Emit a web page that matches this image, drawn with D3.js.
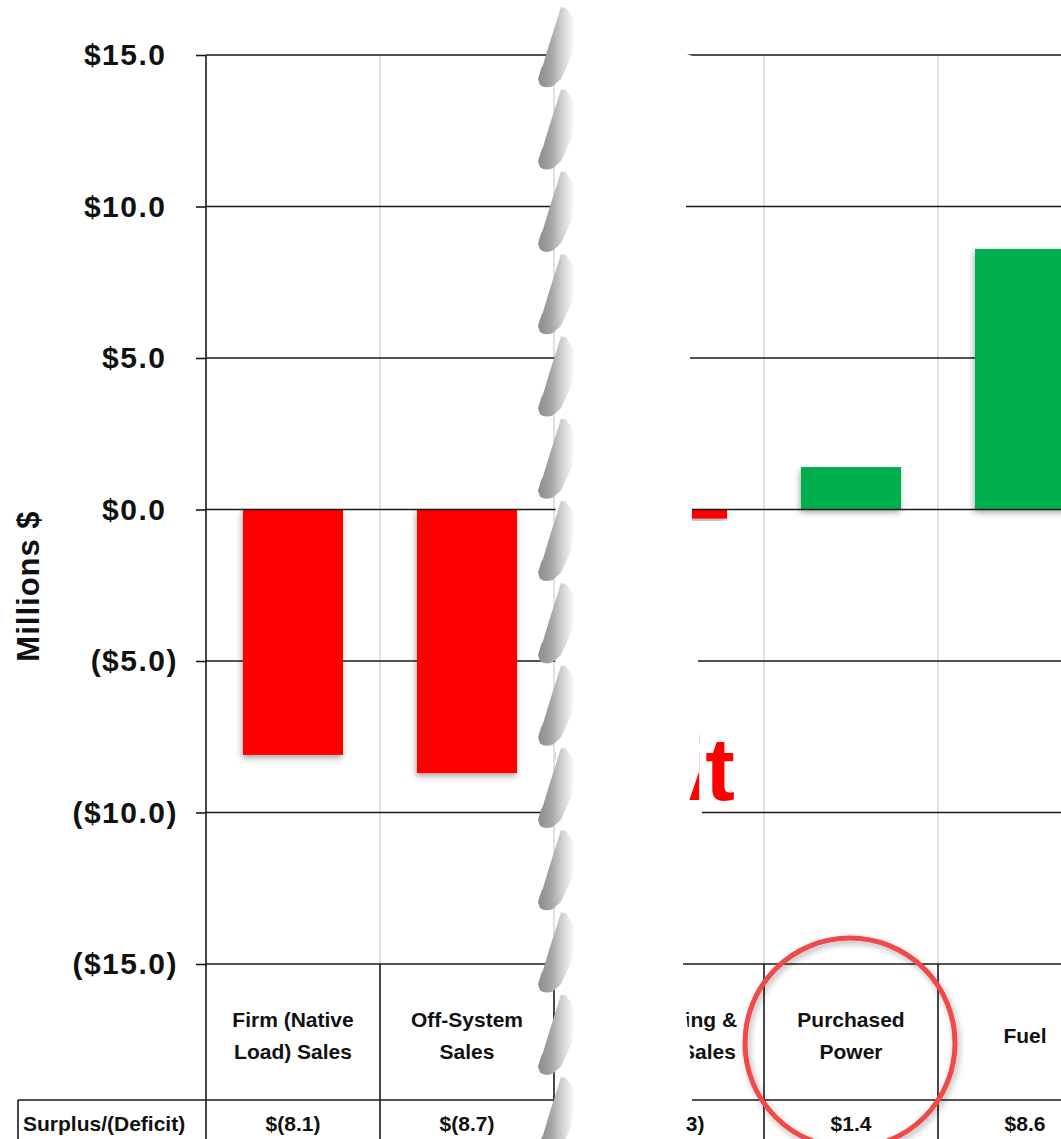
<!DOCTYPE html>
<html>
<head>
<meta charset="utf-8">
<script src="https://cdn.jsdelivr.net/npm/d3@7"></script>
<style>
  html, body { margin: 0; padding: 0; background: #fff; }
  svg { display: block; }
  text { font-family: "Liberation Sans", Arial, Helvetica, sans-serif; font-weight: bold; fill: #111; }
</style>
</head>
<body>
<svg id="chart" width="1061" height="1139"></svg>
<script>
// Surplus/(Deficit) by component, millions of dollars
const categories = [
  "Firm (Native Load) Sales",
  "Off-System Sales",
  "Marketing & Retail Sales",
  "Purchased Power",
  "Fuel"
];
const categoryLines = [
  ["Firm (Native", "Load) Sales"],
  ["Off-System", "Sales"],
  ["Marketing &", "Retail Sales"],
  ["Purchased", "Power"],
  ["Fuel"]
];
const values = [-8.1, -8.7, -0.3, 1.4, 8.6];
const yTicks = [15, 10, 5, 0, -5, -10, -15];
const rowLabel = "Surplus/(Deficit)";
const axisTitle = "Millions $";
const calloutText = "Deficit";
const highlighted = "Purchased Power";
const breakIndex = 2; // categories from this index on sit right of the page break

// layout
const W = 1061, H = 1139;
const plotTop = 55, plotBottom = 964, axisX = 206, colStep = 174, breakShift = 36;
const tableRowY = 1100, tableLeft = 18, breakLeft = 555.5;

const svg = d3.select("#chart");
const defs = svg.append("defs");

const barShadow = defs.append("filter").attr("id", "barShadow")
  .attr("x", "-20%").attr("y", "-20%").attr("width", "140%").attr("height", "140%");
barShadow.append("feDropShadow").attr("dx", -1).attr("dy", 3).attr("stdDeviation", 3)
  .attr("flood-color", "#000").attr("flood-opacity", 0.35);

const ringShadow = defs.append("filter").attr("id", "ringShadow")
  .attr("x", "-20%").attr("y", "-20%").attr("width", "140%").attr("height", "140%");
ringShadow.append("feDropShadow").attr("dx", 2).attr("dy", 3).attr("stdDeviation", 3)
  .attr("flood-color", "#000").attr("flood-opacity", 0.3);

const tearGrad = defs.append("linearGradient").attr("id", "tearGrad")
  .attr("x1", "0").attr("x2", "1").attr("y1", "0").attr("y2", "0");
[[0, "#8c8c8c"], [0.35, "#a4a4a4"], [0.7, "#d8d8d8"], [1, "#ffffff"]].forEach(([o, c]) =>
  tearGrad.append("stop").attr("offset", o).attr("stop-color", c));

const tearBlur = defs.append("filter").attr("id", "tearBlur")
  .attr("x", "-30%").attr("y", "-10%").attr("width", "160%").attr("height", "120%");
tearBlur.append("feGaussianBlur").attr("stdDeviation", 0.7);

// the right-hand piece of the page only shows right of the break
defs.append("clipPath").attr("id", "rightPiece")
  .append("rect").attr("x", breakLeft).attr("y", 0).attr("width", W - breakLeft).attr("height", H);

// scales
const y = d3.scaleLinear().domain([-15, 15]).range([plotBottom, plotTop]);
const x = d3.scaleBand().domain(categories).range([axisX, axisX + colStep * categories.length]);
const shift = c => categories.indexOf(c) >= breakIndex ? breakShift : 0;
const colLeft = c => x(c) + shift(c);
const colCenter = c => colLeft(c) + x.bandwidth() / 2;
const barW = x.bandwidth() * 0.575;

// table values: $(8.1) ; axis labels: ($5.0)
const money = v => v < 0 ? `$(${Math.abs(v).toFixed(1)})` : `$${v.toFixed(1)}`;
const axisMoney = v => v < 0 ? `($${Math.abs(v).toFixed(1)})` : `$${v.toFixed(1)}`;

// vertical light gridlines at column boundaries
const boundaries = [];
categories.forEach(c => { boundaries.push(colLeft(c)); boundaries.push(colLeft(c) + x.bandwidth()); });
const uniqB = Array.from(new Set(boundaries.map(b => Math.round(b)))).filter(b => b > axisX && b < W);
svg.append("g").selectAll("line").data(uniqB).join("line")
  .attr("x1", d => d).attr("x2", d => d)
  .attr("y1", plotTop).attr("y2", plotBottom)
  .attr("stroke", "#d9d9d9").attr("stroke-width", 1.5);

// horizontal gridlines (zero line drawn later, over the bars)
svg.append("g").selectAll("line").data(yTicks.filter(t => t !== 0)).join("line")
  .attr("x1", axisX).attr("x2", W)
  .attr("y1", d => y(d)).attr("y2", d => y(d))
  .attr("stroke", "#1a1a1a").attr("stroke-width", 1.6);

// bars
svg.append("g").selectAll("rect").data(categories).join("rect")
  .attr("x", c => colCenter(c) - barW / 2)
  .attr("width", barW)
  .attr("y", (c, i) => y(Math.max(0, values[i])))
  .attr("height", (c, i) => Math.abs(y(values[i]) - y(0)))
  .attr("fill", (c, i) => values[i] < 0 ? "#ff0000" : "#00b050")
  .attr("filter", "url(#barShadow)");

// zero line
svg.append("line")
  .attr("x1", axisX).attr("x2", W).attr("y1", y(0)).attr("y2", y(0))
  .attr("stroke", "#1a1a1a").attr("stroke-width", 1.6);

// y axis with ticks and labels
const yAxis = d3.axisLeft(y).tickValues(yTicks).tickSize(10).tickPadding(18).tickFormat(axisMoney);
const ag = svg.append("g").attr("transform", `translate(${axisX},0)`).call(yAxis);
ag.select(".domain").remove();
ag.selectAll(".tick line").attr("stroke", "#1a1a1a").attr("stroke-width", 1.6);
ag.selectAll(".tick text")
  .attr("fill", "#111")
  .style("font-size", "30px").style("letter-spacing", "1.5px")
  .style("font-family", "'Liberation Sans', Arial, sans-serif").style("font-weight", "bold")
  .text(null)
  .each(function (d) {
    const t = d3.select(this);
    t.append("tspan").text(axisMoney(d));
    // positive values keep room for the closing parenthesis
    if (d >= 0) t.append("tspan").attr("fill-opacity", 0).text(")");
  });
svg.append("line").attr("x1", axisX).attr("x2", axisX).attr("y1", plotTop).attr("y2", H)
  .attr("stroke", "#1a1a1a").attr("stroke-width", 1.6);

// axis title
svg.append("text")
  .attr("transform", `translate(39,${586}) rotate(-90)`)
  .attr("text-anchor", "middle")
  .style("font-size", "31px").style("letter-spacing", "1px")
  .text(axisTitle);

// table lines
const tableLines = svg.append("g").attr("stroke", "#1a1a1a").attr("stroke-width", 1.6);
tableLines.selectAll("line.col").data(uniqB).join("line").attr("class", "col")
  .attr("x1", d => d).attr("x2", d => d).attr("y1", plotBottom).attr("y2", H);
tableLines.append("line").attr("x1", tableLeft).attr("x2", W).attr("y1", tableRowY).attr("y2", tableRowY);
tableLines.append("line").attr("x1", tableLeft).attr("x2", tableLeft).attr("y1", tableRowY).attr("y2", H);

// category labels
const catG = svg.append("g").selectAll("text").data(categories).join("text")
  .attr("text-anchor", "middle")
  .style("font-size", "21px");
catG.each(function (c, i) {
  const lines = categoryLines[i];
  const base = lines.length === 1 ? 1043 : 1027;
  d3.select(this).selectAll("tspan").data(lines).join("tspan")
    .attr("x", colCenter(c))
    .attr("y", (l, j) => base + j * 32)
    .text(l => l);
});

// value row
svg.append("text").attr("x", tableLeft + 5).attr("y", 1131)
  .style("font-size", "21px").text(rowLabel);
svg.append("g").selectAll("text").data(categories).join("text")
  .attr("x", c => colCenter(c)).attr("y", 1131)
  .attr("text-anchor", "middle").style("font-size", "21px")
  .text((c, i) => money(values[i]));

// callout word, on the right-hand piece
svg.append("g").attr("clip-path", "url(#rightPiece)")
  .append("text").attr("x", 735).attr("y", 800)
  .attr("text-anchor", "end")
  .style("font-size", "89px").style("fill", "#ff0000")
  .text(calloutText);

// page break: white gap with a torn left edge
const coverRight = [
  [686, 0], [682, 52], [697, 58], [686, 130], [686, 206], [690, 300], [690, 358],
  [692, 440], [692, 520], [695, 600], [698, 661], [699, 740], [699, 772], [689, 801],
  [702, 808], [702, 830], [690, 900], [683, 964], [686, 1010], [690, 1050],
  [692, 1100], [683, H]
];
const coverPts = [[breakLeft, 0]].concat(coverRight, [[breakLeft, H]]);
svg.append("path")
  .attr("d", d3.line()(coverPts) + "Z")
  .attr("fill", "#fff");

const toothTops = d3.range(14).map(i => 7 + 82.3 * i);
const tooth = top => {
  const p = d3.path();
  p.moveTo(561, top);
  p.lineTo(566, top + 1);
  p.lineTo(575, top + 14);
  p.lineTo(572, top + 48);
  p.lineTo(561, top + 72);
  p.lineTo(553, top + 79);
  p.quadraticCurveTo(545, top + 82, 540, top + 78);
  p.lineTo(538, top + 72);
  p.lineTo(541, top + 62);
  p.lineTo(543, top + 58);
  p.lineTo(549, top + 38);
  p.lineTo(556, top + 16);
  p.closePath();
  return p.toString();
};
svg.append("g").attr("filter", "url(#tearBlur)")
  .selectAll("path").data(toothTops).join("path")
  .attr("d", tooth)
  .attr("fill", "url(#tearGrad)");

// highlight ring
svg.append("circle")
  .attr("cx", colCenter(highlighted) - 1).attr("cy", 1043).attr("r", 105)
  .attr("fill", "none").attr("stroke", "#ef4848").attr("stroke-width", 5)
  .attr("filter", "url(#ringShadow)");
</script>
</body>
</html>
